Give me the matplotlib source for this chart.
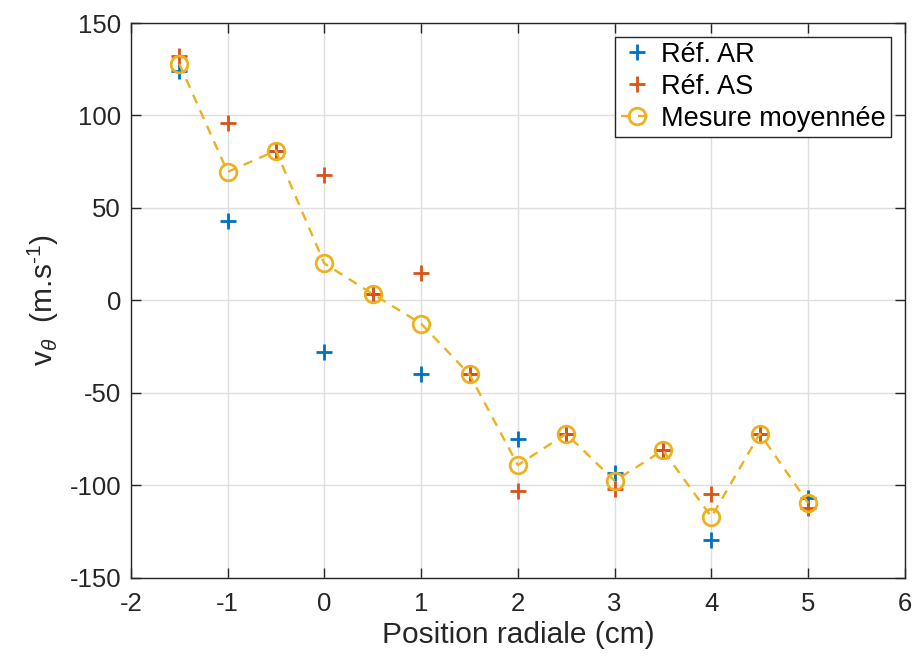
import numpy as np
import matplotlib.pyplot as plt

plt.rcParams['font.family'] = ['Liberation Sans', 'DejaVu Sans']
plt.rcParams['mathtext.fontset'] = 'custom'
plt.rcParams['mathtext.rm'] = 'Liberation Sans'
plt.rcParams['mathtext.it'] = 'Liberation Sans:italic'
plt.rcParams['axes.unicode_minus'] = False

# Data
position = [-1.5, -1, -0.5, 0, 0.5, 1, 1.5, 2, 2.5, 3, 3.5, 4, 4.5, 5]
ref_ar = [124, 43, 81, -28, 3.5, -40, -40, -75, -72, -93, -81, -129.5, -72, -107]
ref_as = [132, 96, 81, 68, 3.5, 15, -40, -103, -72, -102, -81, -104.5, -72, -112]
mesure = list((np.array(ref_ar) + np.array(ref_as)) / 2)

blue = '#0072BD'
red = '#D95319'
yellow = '#EDB120'


def plot_vitesse():
    fig = plt.figure(figsize=(9.15, 6.61), dpi=100)
    ax = fig.add_axes([0.143, 0.1256, 0.846, 0.8396])

    ax.plot(position, ref_ar, '+', color=blue, markersize=12, mew=2,
            label='Réf. AR', linestyle='none')
    ax.plot(position, ref_as, '+', color=red, markersize=12, mew=2,
            label='Réf. AS', linestyle='none')
    ax.plot(position, mesure, '--o', color=yellow, markersize=12, mew=2,
            lw=1.7, dashes=(4, 3.2), markerfacecolor='none',
            label='Mesure moyennée')

    ax.set_xlim(-2, 6)
    ax.set_ylim(-150, 150)
    ax.set_xticks(np.arange(-2, 7, 1))
    ax.set_yticks(np.arange(-150, 151, 50))
    ax.grid(True, color='#dedede', lw=1)
    ax.set_axisbelow(True)
    ax.tick_params(direction='in', top=True, right=True, labelsize=18.5,
                   length=7, width=1, colors='#262626')
    ax.tick_params(axis='x', pad=10)
    ax.tick_params(axis='y', pad=7)
    for s in ax.spines.values():
        s.set_color('#262626')
        s.set_linewidth(1)

    ax.set_xlabel('Position radiale (cm)', fontsize=21.5, color='#262626',
                  labelpad=4)
    ax.set_ylabel(r'v$_{\theta}$  (m.s$^{\text{-1}}$)', fontsize=21.5,
                  color='#262626', labelpad=6)

    leg = ax.legend(loc='upper right', fontsize=19.5, fancybox=False,
                    framealpha=1, edgecolor='#262626', borderpad=0.2,
                    labelspacing=0.22, handlelength=1.2, handletextpad=0.3,
                    borderaxespad=0.5)
    leg.get_frame().set_linewidth(1)

    fig.savefig('out.png', dpi=100)
    plt.close(fig)


if __name__ == "__main__":
    plot_vitesse()
